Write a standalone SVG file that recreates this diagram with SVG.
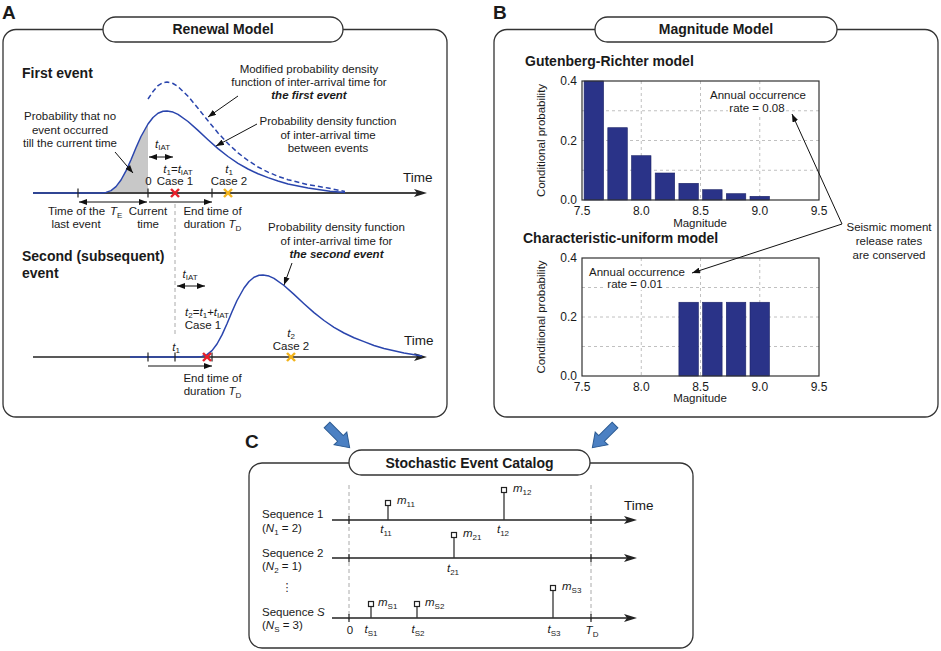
<svg xmlns="http://www.w3.org/2000/svg" width="941" height="651" viewBox="0 0 941 651">
<defs>
<style>
text{font-family:"Liberation Sans",Arial,sans-serif;fill:#1a1a1a}
.t{font-size:11.5px}
.h{font-size:14px;font-weight:bold}
.L{font-size:19px;font-weight:bold}
.tk{font-size:12px}
.tm{font-size:13.5px}
.i{font-style:italic}
.bi{font-style:italic;font-weight:bold}
.s{font-size:8px;font-style:normal}
.frame{fill:none;stroke:#333;stroke-width:1.3}
.pill{fill:#fff;stroke:#333;stroke-width:1.3}
.ptr{stroke:#111;stroke-width:1;fill:none;marker-end:url(#ah)}
.dbl{stroke:#111;stroke-width:1;fill:none;marker-start:url(#ah);marker-end:url(#ah)}
.tick{stroke:#222;stroke-width:1.2}
.pdf{fill:none;stroke:#2a45ad;stroke-width:1.5;stroke-linejoin:round}
.vd{stroke:#aaa;stroke-width:1;stroke-dasharray:4 3}
.grid{stroke:#b0b0b0;stroke-width:0.8;stroke-dasharray:3 3}
.bar{fill:#2a3388;stroke:#1c2466;stroke-width:0.6}
.plot{fill:none;stroke:#333;stroke-width:1.2}
.stem{stroke:#333;stroke-width:1.3}
.sq{fill:#fff;stroke:#222;stroke-width:1.2}
.xr{stroke:#e8202a;stroke-width:2.4}
.xy{stroke:#f2b31b;stroke-width:2.4}
.blk{fill:#4b80c3;stroke:#2c5b93;stroke-width:1}
.wb{fill:#fff}
</style>
<marker id="ah" viewBox="0 0 8 6" refX="8" refY="3" markerWidth="8" markerHeight="6" markerUnits="userSpaceOnUse" orient="auto-start-reverse"><path d="M0,0 L8,3 L0,6 z" fill="#111"/></marker>
<marker id="ax" viewBox="0 0 13 8" refX="9" refY="4" markerWidth="13" markerHeight="8" markerUnits="userSpaceOnUse" orient="auto"><path d="M0,0 L13,4 L0,8 L3,4 z" fill="#222"/></marker>
</defs>
<rect x="0" y="0" width="941" height="651" fill="#fff"/>

<!-- Panel A -->
<g id="panelA">
<text class="L" x="2" y="18.5">A</text>
<rect class="frame" x="3" y="29.5" width="444" height="387.5" rx="13"/>
<rect class="pill" x="103" y="17" width="240" height="25" rx="12.5"/>
<text class="h" x="223" y="34" text-anchor="middle">Renewal Model</text>
</g>

<g id="firstEvent">
<text class="h" x="22" y="78">First event</text>
<path d="M98,193 L103,193 L108,192.2 L113,189.9 L118,184.9 L123,177.1 L128,166.9 L133,155.5 L138,144.1 L143,133.7 L148,124 L148,193 Z" fill="#c8c8c8"/>
<line x1="33" y1="193" x2="423" y2="193" stroke="#444" stroke-width="2.2" marker-end="url(#ax)"/>
<path class="pdf" d="M33,193 L101,193 L106,192.4 L111,190.6 L116,186.6 L121,180 L126,170.9 L131,159.8 L136,147.8 L141,136.5 L148,124 L153,117.5 L158,113.3 L163,111.3 L167,111 L173,112.1 L178,114.4 L188,121.5 L198,130.4 L208,139.7 L218,148.6 L228,156.5 L238,163.3 L248,169 L258,173.8 L268,177.6 L278,181 L288,184 L308,188 L330,191.3 L345,192.5"/>
<path class="pdf" stroke-dasharray="5 3" d="M148,99 L153,91.5 L158,85.6 L163,82.6 L167,82 L173,83.5 L178,86.6 L188,96.2 L198,108.2 L208,120.8 L218,132.9 L228,143.6 L238,152.8 L248,160.5 L258,167 L268,172.1 L278,176.3 L288,179.7 L308,184.7 L328,188 L345,191.5"/>
<line class="tick" x1="78" y1="188.5" x2="78" y2="197.5"/>
<line class="tick" x1="148" y1="188.5" x2="148" y2="197.5"/>
<line class="tick" x1="212" y1="188.5" x2="212" y2="197.5"/>
<g class="xr"><line x1="171" y1="189" x2="179" y2="197"/><line x1="179" y1="189" x2="171" y2="197"/></g>
<g class="xy"><line x1="224" y1="189" x2="232" y2="197"/><line x1="232" y1="189" x2="224" y2="197"/></g>
<text class="tm" x="403" y="182">Time</text>
<text class="t" x="70" y="120" text-anchor="middle">Probability that no</text>
<text class="t" x="70" y="133.5" text-anchor="middle">event occurred</text>
<text class="t" x="70" y="147" text-anchor="middle">till the current time</text>
<text class="t" x="309" y="73" text-anchor="middle">Modified probability density</text>
<text class="t" x="309" y="86" text-anchor="middle">function of inter-arrival time for</text>
<text class="t bi" x="309" y="99" text-anchor="middle">the first event</text>
<text class="t" x="328" y="125" text-anchor="middle">Probability density function</text>
<text class="t" x="328" y="138.5" text-anchor="middle">of inter-arrival time</text>
<text class="t" x="328" y="152" text-anchor="middle">between events</text>
<text class="t" x="155" y="148"><tspan class="i">t</tspan><tspan class="s" dy="2">IAT</tspan></text>
<text class="t" x="178" y="172.5" text-anchor="middle"><tspan class="i">t</tspan><tspan class="s" dy="2">1</tspan><tspan dy="-2">=</tspan><tspan class="i">t</tspan><tspan class="s" dy="2">IAT</tspan></text>
<text class="t" x="175" y="185" text-anchor="middle">Case 1</text>
<text class="t" x="148.5" y="185" text-anchor="middle">0</text>
<text class="t" x="229" y="172.5" text-anchor="middle"><tspan class="i">t</tspan><tspan class="s" dy="2">1</tspan></text>
<text class="t" x="229" y="185" text-anchor="middle">Case 2</text>
<text class="t" x="76.5" y="215" text-anchor="middle">Time of the</text>
<text class="t" x="110" y="215"><tspan class="i">T</tspan><tspan class="s" dy="2.5">E</tspan></text>
<text class="t" x="76" y="228" text-anchor="middle">last event</text>
<text class="t" x="148" y="215" text-anchor="middle">Current</text>
<text class="t" x="148" y="228" text-anchor="middle">time</text>
<text class="t" x="212.5" y="215" text-anchor="middle">End time of</text>
<text class="t" x="212.5" y="228" text-anchor="middle">duration <tspan class="i">T</tspan><tspan class="s" dy="2.5">D</tspan></text>
</g>

<g id="secondEvent">
<text class="h" x="22" y="261">Second (subsequent)</text>
<text class="h" x="22" y="278">event</text>
<line class="vd" x1="175" y1="204" x2="175" y2="337"/>
<line x1="33" y1="357" x2="423" y2="357" stroke="#222" stroke-width="1.5" marker-end="url(#ax)"/>
<path class="pdf" d="M130,357 L197,357 L202,356.4 L207,354.6 L212,350.6 L217,344 L222,334.9 L227,323.8 L232,311.8 L237,300.5 L244,288 L249,281.5 L254,277.3 L259,275.3 L263,275 L269,276.1 L274,278.4 L284,285.5 L294,294.4 L304,303.7 L314,312.6 L324,320.5 L334,327.3 L344,333 L354,337.8 L364,341.6 L374,345.5 L384,348.5 L404,353 L422,356"/>
<line class="tick" x1="148" y1="352.5" x2="148" y2="361.5"/>
<line class="tick" x1="175" y1="352.5" x2="175" y2="361.5"/>
<line class="tick" x1="212" y1="352.5" x2="212" y2="361.5"/>
<g class="xr"><line x1="203" y1="353" x2="211" y2="361"/><line x1="211" y1="353" x2="203" y2="361"/></g>
<g class="xy"><line x1="287" y1="353" x2="295" y2="361"/><line x1="295" y1="353" x2="287" y2="361"/></g>
<text class="tm" x="404" y="345">Time</text>
<text class="t" x="336.5" y="231" text-anchor="middle">Probability density function</text>
<text class="t" x="336.5" y="244.5" text-anchor="middle">of inter-arrival time for</text>
<text class="t bi" x="336.5" y="258" text-anchor="middle">the second event</text>
<text class="t" x="190" y="278" text-anchor="middle"><tspan class="i">t</tspan><tspan class="s" dy="2">IAT</tspan></text>
<text class="t" x="207" y="315.5" text-anchor="middle"><tspan class="i">t</tspan><tspan class="s" dy="2">2</tspan><tspan dy="-2">=</tspan><tspan class="i">t</tspan><tspan class="s" dy="2">1</tspan><tspan dy="-2">+</tspan><tspan class="i">t</tspan><tspan class="s" dy="2">IAT</tspan></text>
<text class="t" x="203" y="329" text-anchor="middle">Case 1</text>
<text class="t" x="176" y="350.5" text-anchor="middle"><tspan class="i">t</tspan><tspan class="s" dy="2">1</tspan></text>
<text class="t" x="291" y="336.5" text-anchor="middle"><tspan class="i">t</tspan><tspan class="s" dy="2">2</tspan></text>
<text class="t" x="291" y="350" text-anchor="middle">Case 2</text>
<text class="t" x="212.5" y="382" text-anchor="middle">End time of</text>
<text class="t" x="212.5" y="395" text-anchor="middle">duration <tspan class="i">T</tspan><tspan class="s" dy="2.5">D</tspan></text>
</g>

<!-- Panel B -->
<g id="panelB">
<text class="L" x="493" y="18.5">B</text>
<rect class="frame" x="494" y="29.5" width="444" height="387.5" rx="13"/>
<rect class="pill" x="595" y="17" width="242" height="25" rx="12.5"/>
<text class="h" x="716" y="34" text-anchor="middle">Magnitude Model</text>
</g>

<g id="grChart">
<text class="h" x="525" y="66">Gutenberg-Richter model</text>
<g class="grid">
<line x1="641.25" y1="81" x2="641.25" y2="200"/><line x1="700.5" y1="81" x2="700.5" y2="200"/><line x1="759.75" y1="81" x2="759.75" y2="200"/>
<line x1="582" y1="110.75" x2="819" y2="110.75"/><line x1="582" y1="140.5" x2="819" y2="140.5"/><line x1="582" y1="170.25" x2="819" y2="170.25"/>
</g>
<rect class="bar" x="584.1" y="81" width="19.5" height="119"/>
<rect class="bar" x="607.8" y="127.7" width="19.5" height="72.3"/>
<rect class="bar" x="631.5" y="155.7" width="19.5" height="44.3"/>
<rect class="bar" x="655.2" y="173" width="19.5" height="27"/>
<rect class="bar" x="678.9" y="183.3" width="19.5" height="16.7"/>
<rect class="bar" x="702.6" y="189.7" width="19.5" height="10.3"/>
<rect class="bar" x="726.3" y="193.7" width="19.5" height="6.3"/>
<rect class="bar" x="750" y="196.3" width="19.5" height="3.7"/>
<rect class="plot" x="582" y="81" width="237" height="119"/>
<text class="tk" x="577" y="85.3" text-anchor="end">0.4</text>
<text class="tk" x="577" y="144.8" text-anchor="end">0.2</text>
<text class="tk" x="577" y="204.3" text-anchor="end">0.0</text>
<text class="tk" x="582" y="215" text-anchor="middle">7.5</text>
<text class="tk" x="641.25" y="215" text-anchor="middle">8.0</text>
<text class="tk" x="700.5" y="215" text-anchor="middle">8.5</text>
<text class="tk" x="759.75" y="215" text-anchor="middle">9.0</text>
<text class="tk" x="819" y="215" text-anchor="middle">9.5</text>
<text class="t" x="700" y="227" text-anchor="middle">Magnitude</text>
<text class="t" transform="translate(545,140.5) rotate(-90)" text-anchor="middle">Conditional probability</text>
<rect class="wb" x="708" y="90" width="101" height="13"/>
<rect class="wb" x="728" y="103" width="57" height="12"/>
<text class="t" x="758" y="99" text-anchor="middle">Annual occurrence</text>
<text class="t" x="757" y="112" text-anchor="middle">rate = 0.08</text>
</g>

<g id="cuChart">
<text class="h" x="523" y="243">Characteristic-uniform model</text>
<g class="grid">
<line x1="641.25" y1="258" x2="641.25" y2="376"/><line x1="700.5" y1="258" x2="700.5" y2="376"/><line x1="759.75" y1="258" x2="759.75" y2="376"/>
<line x1="582" y1="287.5" x2="819" y2="287.5"/><line x1="582" y1="317" x2="819" y2="317"/><line x1="582" y1="346.5" x2="819" y2="346.5"/>
</g>
<rect class="bar" x="678.9" y="302.25" width="19.5" height="73.75"/>
<rect class="bar" x="702.6" y="302.25" width="19.5" height="73.75"/>
<rect class="bar" x="726.3" y="302.25" width="19.5" height="73.75"/>
<rect class="bar" x="750" y="302.25" width="19.5" height="73.75"/>
<rect class="plot" x="582" y="258" width="237" height="118"/>
<text class="tk" x="577" y="262.3" text-anchor="end">0.4</text>
<text class="tk" x="577" y="321.3" text-anchor="end">0.2</text>
<text class="tk" x="577" y="380.3" text-anchor="end">0.0</text>
<text class="tk" x="582" y="390.5" text-anchor="middle">7.5</text>
<text class="tk" x="641.25" y="390.5" text-anchor="middle">8.0</text>
<text class="tk" x="700.5" y="390.5" text-anchor="middle">8.5</text>
<text class="tk" x="759.75" y="390.5" text-anchor="middle">9.0</text>
<text class="tk" x="819" y="390.5" text-anchor="middle">9.5</text>
<text class="t" x="700" y="402" text-anchor="middle">Magnitude</text>
<text class="t" transform="translate(545,317) rotate(-90)" text-anchor="middle">Conditional probability</text>
<rect class="wb" x="587" y="266" width="100" height="13"/>
<rect class="wb" x="605" y="279" width="60" height="11"/>
<text class="t" x="637" y="275.5" text-anchor="middle">Annual occurrence</text>
<text class="t" x="635" y="287.5" text-anchor="middle">rate = 0.01</text>
</g>

<g id="seismicNote">
<text class="t" x="889" y="231" text-anchor="middle">Seismic moment</text>
<text class="t" x="889" y="245" text-anchor="middle">release rates</text>
<text class="t" x="889" y="259" text-anchor="middle">are conserved</text>
</g>

<!-- Panel C -->
<g id="panelC">
<text class="L" x="245" y="447.5">C</text>
<rect class="frame" x="249" y="463" width="444" height="185" rx="13"/>
<rect class="pill" x="349" y="450" width="241" height="25" rx="12.5"/>
<text class="h" x="469.5" y="467.5" text-anchor="middle">Stochastic Event Catalog</text>
<line class="vd" x1="349" y1="485" x2="349" y2="620"/>
<line class="vd" x1="591" y1="485" x2="591" y2="620"/>
<text class="tm" x="624" y="510">Time</text>
</g>

<g id="seq1">
<line x1="332" y1="520" x2="633" y2="520" stroke="#222" stroke-width="1.4" marker-end="url(#ax)"/>
<line class="tick" x1="349" y1="516" x2="349" y2="524"/><line class="tick" x1="591" y1="516" x2="591" y2="524"/>
<line class="stem" x1="388" y1="520" x2="388" y2="505.5"/><rect class="sq" x="385.5" y="500.5" width="5" height="5"/>
<line class="stem" x1="504" y1="520" x2="504" y2="492.5"/><rect class="sq" x="501.5" y="487.5" width="5" height="5"/>
<text class="t" x="397" y="504"><tspan class="i">m</tspan><tspan class="s" dy="2.5">11</tspan></text>
<text class="t" x="513" y="492"><tspan class="i">m</tspan><tspan class="s" dy="2.5">12</tspan></text>
<text class="t" x="386" y="533" text-anchor="middle"><tspan class="i">t</tspan><tspan class="s" dy="2.5">11</tspan></text>
<text class="t" x="503" y="533" text-anchor="middle"><tspan class="i">t</tspan><tspan class="s" dy="2.5">12</tspan></text>
<text class="t" x="262" y="518">Sequence 1</text>
<text class="t" x="262" y="532">(<tspan class="i">N</tspan><tspan class="s" dy="2.5">1</tspan><tspan dy="-2.5"> = 2)</tspan></text>
</g>

<g id="seq2">
<line x1="332" y1="558" x2="633" y2="558" stroke="#222" stroke-width="1.4" marker-end="url(#ax)"/>
<line class="tick" x1="349" y1="554" x2="349" y2="562"/><line class="tick" x1="591" y1="554" x2="591" y2="562"/>
<line class="stem" x1="454" y1="558" x2="454" y2="537.5"/><rect class="sq" x="451.5" y="532.5" width="5" height="5"/>
<text class="t" x="463" y="537"><tspan class="i">m</tspan><tspan class="s" dy="2.5">21</tspan></text>
<text class="t" x="453" y="572" text-anchor="middle"><tspan class="i">t</tspan><tspan class="s" dy="2.5">21</tspan></text>
<text class="t" x="262" y="557">Sequence 2</text>
<text class="t" x="262" y="570">(<tspan class="i">N</tspan><tspan class="s" dy="2.5">2</tspan><tspan dy="-2.5"> = 1)</tspan></text>
<text x="287" y="591" text-anchor="middle" style="font-family:'DejaVu Sans',sans-serif;font-size:11px;fill:#1a1a1a">⋮</text>
</g>

<g id="seqS">
<line x1="332" y1="618" x2="633" y2="618" stroke="#222" stroke-width="1.4" marker-end="url(#ax)"/>
<line class="tick" x1="349" y1="614" x2="349" y2="622"/><line class="tick" x1="591" y1="614" x2="591" y2="622"/>
<line class="stem" x1="371" y1="618" x2="371" y2="606.5"/><rect class="sq" x="368.5" y="601.5" width="5" height="5"/>
<line class="stem" x1="417" y1="618" x2="417" y2="606.5"/><rect class="sq" x="414.5" y="601.5" width="5" height="5"/>
<line class="stem" x1="553" y1="618" x2="553" y2="590.5"/><rect class="sq" x="550.5" y="585.5" width="5" height="5"/>
<text class="t" x="378" y="606"><tspan class="i">m</tspan><tspan class="s" dy="2.5">S1</tspan></text>
<text class="t" x="425" y="606"><tspan class="i">m</tspan><tspan class="s" dy="2.5">S2</tspan></text>
<text class="t" x="562" y="590"><tspan class="i">m</tspan><tspan class="s" dy="2.5">S3</tspan></text>
<text class="t" x="371" y="633" text-anchor="middle"><tspan class="i">t</tspan><tspan class="s" dy="2.5">S1</tspan></text>
<text class="t" x="418" y="633" text-anchor="middle"><tspan class="i">t</tspan><tspan class="s" dy="2.5">S2</tspan></text>
<text class="t" x="554" y="633" text-anchor="middle"><tspan class="i">t</tspan><tspan class="s" dy="2.5">S3</tspan></text>
<text class="t" x="350" y="634" text-anchor="middle">0</text>
<text class="t" x="592" y="634" text-anchor="middle"><tspan class="i">T</tspan><tspan class="s" dy="2.5">D</tspan></text>
<text class="t" x="262" y="616">Sequence <tspan class="i">S</tspan></text>
<text class="t" x="262" y="629">(<tspan class="i">N</tspan><tspan class="s" dy="2.5">S</tspan><tspan dy="-2.5"> = 3)</tspan></text>
</g>

<g id="connectors">
<line class="ptr" x1="115" y1="152" x2="133" y2="173"/>
<line class="ptr" x1="238" y1="96" x2="208" y2="117"/>
<line class="ptr" x1="257" y1="124" x2="216" y2="146"/>
<line class="dbl" x1="149" y1="157" x2="173" y2="157"/>
<line class="dbl" x1="79" y1="202" x2="147" y2="202"/>
<line class="ptr" x1="149" y1="202" x2="212" y2="202"/>
<line class="ptr" x1="292" y1="263" x2="284" y2="285"/>
<line class="dbl" x1="177" y1="286" x2="205" y2="286"/>
<line class="ptr" x1="148" y1="366" x2="212" y2="366"/>
<line class="ptr" x1="842" y1="224" x2="792" y2="114"/>
<line class="ptr" x1="842" y1="224" x2="692" y2="273"/>
<path class="blk" transform="translate(327,425) rotate(45)" d="M0,-4 L19,-4 L19,-9 L32,0 L19,9 L19,4 L0,4 Z"/>
<path class="blk" transform="translate(615,425) rotate(135)" d="M0,-4 L19,-4 L19,-9 L32,0 L19,9 L19,4 L0,4 Z"/>
</g>
</svg>
